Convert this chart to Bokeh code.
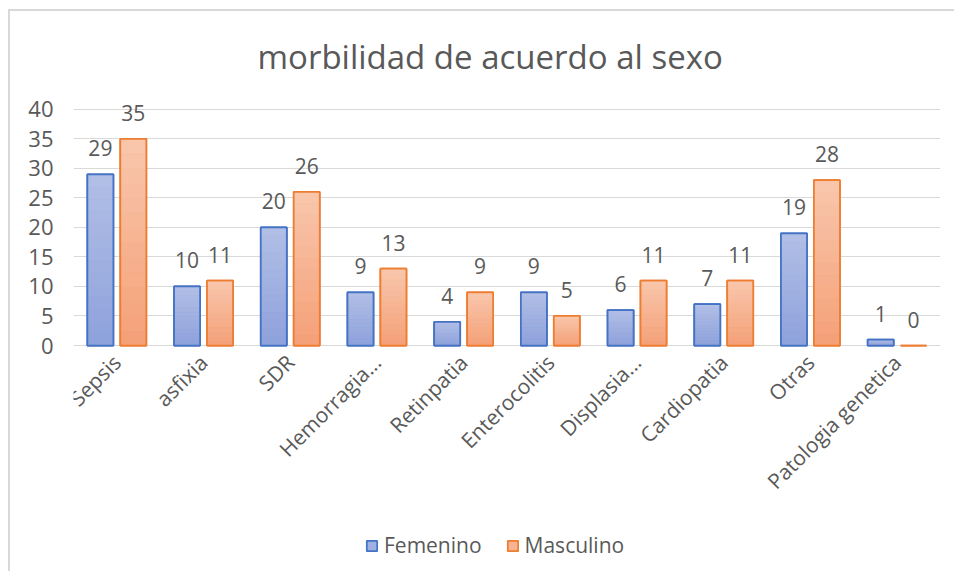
import math
from bokeh.plotting import figure
from bokeh.models import ColumnDataSource, FactorRange, Range1d, Title, Legend, LegendItem
from bokeh.transform import dodge
from bokeh.core.properties import value
from bokeh.embed import file_html
from bokeh.resources import INLINE

categories = ["Sepsis", "asfixia", "SDR", "Hemorragia...", "Retinpatia",
              "Enterocolitis", "Displasia...", "Cardiopatia", "Otras", "Patologia genetica"]
femenino = [29, 10, 20, 9, 4, 9, 6, 7, 19, 1]
masculino = [35, 11, 26, 13, 9, 5, 11, 11, 28, 0]
y_ticks = [0, 5, 10, 15, 20, 25, 30, 35, 40]
title_text = "morbilidad de acuerdo al sexo"

FONT = "Open Sans"
GRAY = "#595959"
FEM_LINE, MAS_LINE = "#4472c4", "#ed7d31"
FEM_TOP, FEM_BOT = (178, 191, 230), (141, 161, 219)
MAS_TOP, MAS_BOT = (249, 199, 173), (244, 160, 119)
N_SLICES = 14


def hexcol(c):
    return "#%02x%02x%02x" % tuple(int(round(v)) for v in c)


def mix(a, b, t):
    return hexcol([a[i] + (b[i] - a[i]) * t for i in range(3)])


src = ColumnDataSource(dict(
    cat=categories,
    fem=femenino,
    mas=masculino,
    zero=[0] * len(categories),
    fem_txt=[str(v) for v in femenino],
    mas_txt=[str(v) for v in masculino],
))


def gradient_source(vals, top_c, bot_c):
    d = dict(cat=[], bottom=[], top=[], color=[])
    for c, v in zip(categories, vals):
        for k in range(N_SLICES):
            d["cat"].append(c)
            d["bottom"].append(v * k / N_SLICES)
            d["top"].append(v * (k + 1) / N_SLICES)
            d["color"].append(mix(bot_c, top_c, (k + 0.5) / N_SLICES))
    return ColumnDataSource(d)


# plot area extends below zero so the rotated category labels and the legend
# live inside the frame
p = figure(frame_width=867, frame_height=474, output_backend="svg", toolbar_location=None,
           x_range=FactorRange(factors=categories, range_padding=0),
           y_range=Range1d(-38.27, 42),
           min_border_left=63, min_border_right=14, min_border_top=86, min_border_bottom=0)
p.styles = {"margin-left": "8px", "margin-top": "9px",
            "border-left": "2px solid #d9d9d9", "border-top": "2px solid #d9d9d9"}

p.outline_line_color = None
p.background_fill_color = "white"
p.border_fill_color = "white"

p.title = Title(text=title_text, align="left", offset=184, text_font=FONT, text_font_size="33px",
                text_color=GRAY, text_font_style="normal", standoff=37)

BW = 0.3
xf = dodge("cat", -0.19, range=p.x_range)
xm = dodge("cat", 0.19, range=p.x_range)

# base bars (used by the legend)
r_f = p.vbar(x=xf, top="fem", width=BW, source=src,
             fill_color=mix(FEM_BOT, FEM_TOP, 0.5), line_color=FEM_LINE, line_width=1.75)
r_m = p.vbar(x=xm, top="mas", width=BW, source=src,
             fill_color=mix(MAS_BOT, MAS_TOP, 0.5), line_color=MAS_LINE, line_width=1.75)

# gradient fill
p.vbar(x=dodge("cat", -0.19, range=p.x_range), bottom="bottom", top="top", width=BW,
       source=gradient_source(femenino, FEM_TOP, FEM_BOT),
       fill_color="color", line_color="color", line_width=0.5)
p.vbar(x=dodge("cat", 0.19, range=p.x_range), bottom="bottom", top="top", width=BW,
       source=gradient_source(masculino, MAS_TOP, MAS_BOT),
       fill_color="color", line_color="color", line_width=0.5)

# outlines on top
p.vbar(x=xf, top="fem", width=BW, source=src, fill_alpha=0,
       line_color=FEM_LINE, line_width=1.75)
p.vbar(x=xm, top="mas", width=BW, source=src, fill_alpha=0,
       line_color=MAS_LINE, line_width=1.75)

# data labels
p.text(x=xf, y="fem", text="fem_txt", source=src,
       text_align="center", text_baseline="alphabetic", y_offset=-26,
       text_font=value(FONT), text_font_size="21px", text_color=GRAY)
p.text(x=xm, y="mas", text="mas_txt", source=src,
       text_align="center", text_baseline="alphabetic", y_offset=-26,
       text_font=value(FONT), text_font_size="21px", text_color=GRAY)

# category labels (rotated 45 degrees, hanging from the zero line)
p.text(x="cat", y="zero", text="cat", source=src, angle=math.pi / 4,
       text_align="right", text_baseline="middle", y_offset=13,
       text_font=value(FONT), text_font_size="21px", text_color=GRAY)

p.xgrid.grid_line_color = None
p.ygrid.grid_line_color = "#d9d9d9"
p.ygrid.grid_line_width = 1

p.xaxis.visible = False

p.yaxis.ticker = y_ticks
p.yaxis.axis_line_color = None
p.yaxis.major_tick_line_color = None
p.yaxis.minor_tick_line_color = None
p.yaxis.major_label_text_font = FONT
p.yaxis.major_label_text_font_size = "22px"
p.yaxis.major_label_text_color = GRAY
p.yaxis.major_label_standoff = 14

legend = Legend(items=[LegendItem(label="Femenino", renderers=[r_f]),
                       LegendItem(label="Masculino", renderers=[r_m])],
                orientation="horizontal", location=(292, 12),
                glyph_width=13, glyph_height=13, label_standoff=6, spacing=24,
                padding=0, margin=0, border_line_color=None, background_fill_alpha=0,
                label_text_font=FONT, label_text_font_size="21px", label_text_color=GRAY)
p.add_layout(legend, "center")

open("out.html", "w").write(file_html(p, INLINE))
